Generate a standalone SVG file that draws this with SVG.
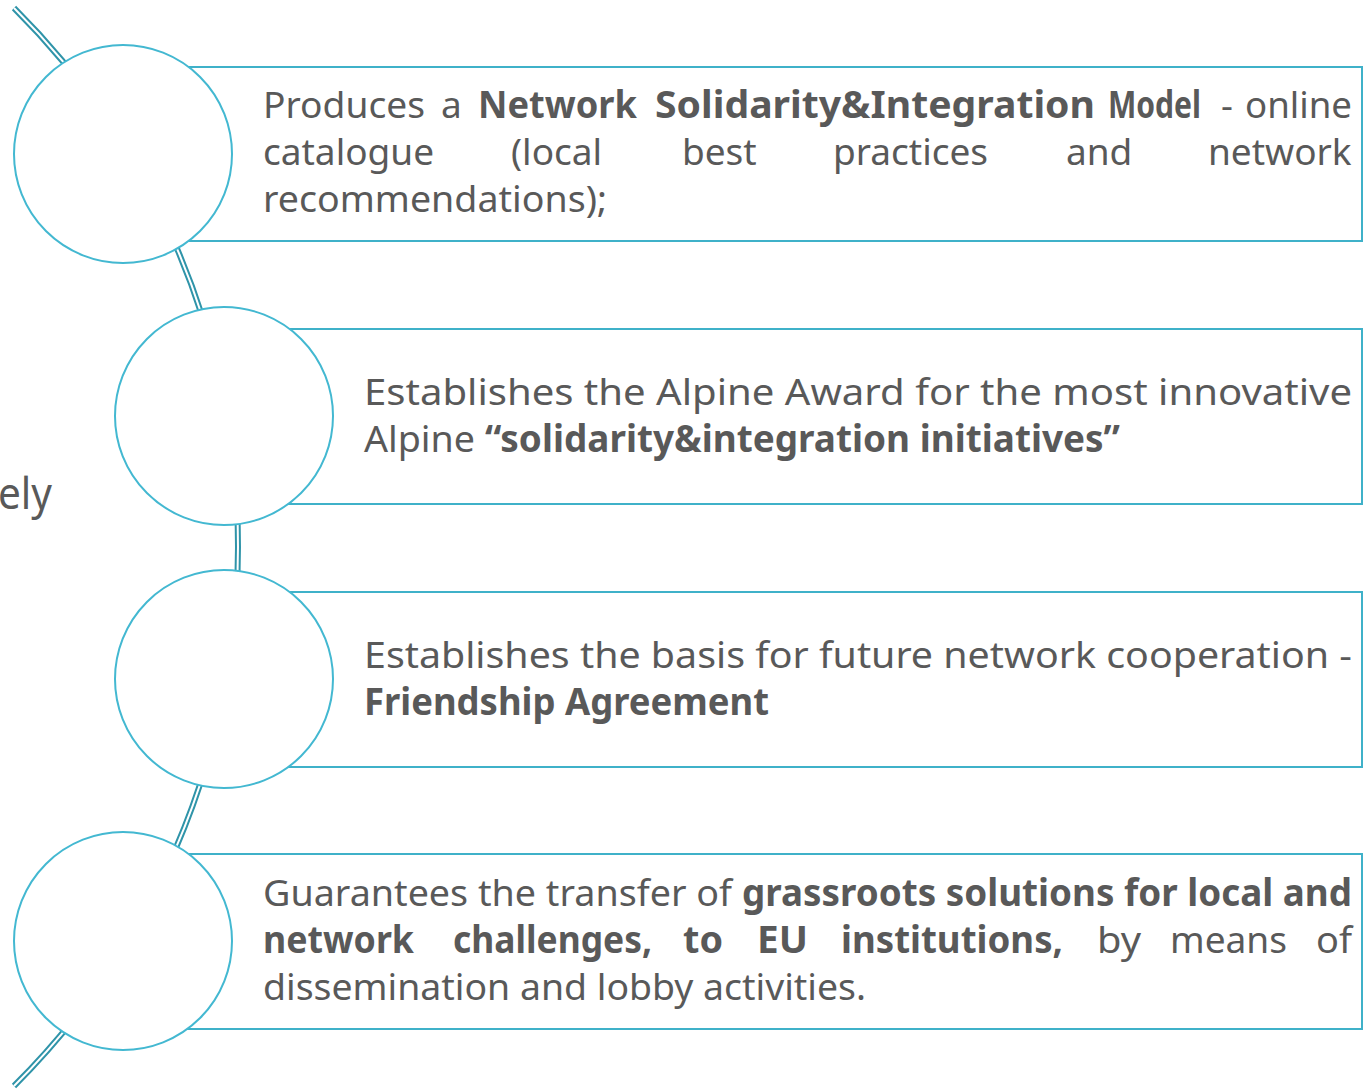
<svg xmlns="http://www.w3.org/2000/svg" width="1369" height="1089" viewBox="0 0 1369 1089">
<style>
.box{fill:#ffffff;stroke:#3fb1c9;stroke-width:2}
.circ{fill:#ffffff;stroke:#43b8d1;stroke-width:2}
.t{font-family:"Noto Sans","Open Sans","DejaVu Sans",sans-serif;font-size:37px;fill:#595959}
.b{font-weight:bold}
.arcO{fill:none;stroke:#2f94a9;stroke-width:6}
.arcI{fill:none;stroke:#ffffff;stroke-width:2}
</style>
<rect width="1369" height="1089" fill="#ffffff"/>
<text class="t" x="-2" y="509" style="font-size:43px" textLength="54" lengthAdjust="spacingAndGlyphs">ely</text>
<g id="connectors">
<path class="arcO" d="M 14 8 A 760.5 760.5 0 0 1 14 1086"/>
<path class="arcI" d="M 14 8 A 760.5 760.5 0 0 1 14 1086"/>
</g>
<g id="node1">
<rect class="box" x="123" y="67" width="1239" height="174"/>
<circle class="circ" cx="123" cy="154" r="109"/>
<text class="t" y="118"><tspan x="263" textLength="162" lengthAdjust="spacingAndGlyphs">Produces</tspan><tspan x="441">a</tspan><tspan class="b" x="478" textLength="159" lengthAdjust="spacingAndGlyphs">Network</tspan><tspan class="b" x="655" textLength="440" lengthAdjust="spacingAndGlyphs">Solidarity&amp;Integration</tspan><tspan class="b" x="1108" textLength="93" lengthAdjust="spacingAndGlyphs">Model</tspan></text>
<text class="t" y="118"><tspan x="1221">-</tspan><tspan x="1245" textLength="107" lengthAdjust="spacingAndGlyphs">online</tspan></text>
<text class="t" y="165"><tspan x="263">catalogue</tspan><tspan x="511">(local</tspan><tspan x="682">best</tspan><tspan x="833">practices</tspan><tspan x="1066">and</tspan><tspan x="1208">network</tspan></text>
<text class="t" x="263" y="212" textLength="344" lengthAdjust="spacingAndGlyphs">recommendations);</text>
</g>
<g id="node2">
<rect class="box" x="224" y="329" width="1138" height="175"/>
<circle class="circ" cx="224" cy="416" r="109"/>
<text class="t" x="364" y="405" textLength="988" lengthAdjust="spacingAndGlyphs">Establishes the Alpine Award for the most innovative</text>
<text class="t" y="452"><tspan x="364" textLength="111" lengthAdjust="spacingAndGlyphs">Alpine</tspan><tspan class="b" x="485" textLength="635" lengthAdjust="spacingAndGlyphs">“solidarity&amp;integration initiatives”</tspan></text>
</g>
<g id="node3">
<rect class="box" x="224" y="592" width="1138" height="175"/>
<circle class="circ" cx="224" cy="679" r="109"/>
<text class="t" x="364" y="668" textLength="988" lengthAdjust="spacingAndGlyphs">Establishes the basis for future network cooperation -</text>
<text class="t b" x="364" y="715" textLength="405" lengthAdjust="spacingAndGlyphs">Friendship Agreement</text>
</g>
<g id="node4">
<rect class="box" x="123" y="854" width="1239" height="175"/>
<circle class="circ" cx="123" cy="941" r="109"/>
<text class="t" y="906"><tspan x="263" textLength="469" lengthAdjust="spacingAndGlyphs">Guarantees the transfer of</tspan><tspan class="b" x="742" textLength="610" lengthAdjust="spacingAndGlyphs">grassroots solutions for local and</tspan></text>
<text class="t" y="953"><tspan class="b" x="263" textLength="151" lengthAdjust="spacingAndGlyphs">network</tspan><tspan class="b" x="453" textLength="199" lengthAdjust="spacingAndGlyphs">challenges,</tspan><tspan class="b" x="683" textLength="40" lengthAdjust="spacingAndGlyphs">to</tspan><tspan class="b" x="757" textLength="51" lengthAdjust="spacingAndGlyphs">EU</tspan><tspan class="b" x="841" textLength="222" lengthAdjust="spacingAndGlyphs">institutions,</tspan><tspan x="1097" textLength="44" lengthAdjust="spacingAndGlyphs">by</tspan><tspan x="1170" textLength="117" lengthAdjust="spacingAndGlyphs">means</tspan><tspan x="1316" textLength="36" lengthAdjust="spacingAndGlyphs">of</tspan></text>
<text class="t" x="263" y="1000" textLength="603" lengthAdjust="spacingAndGlyphs">dissemination and lobby activities.</text>
</g>
</svg>
